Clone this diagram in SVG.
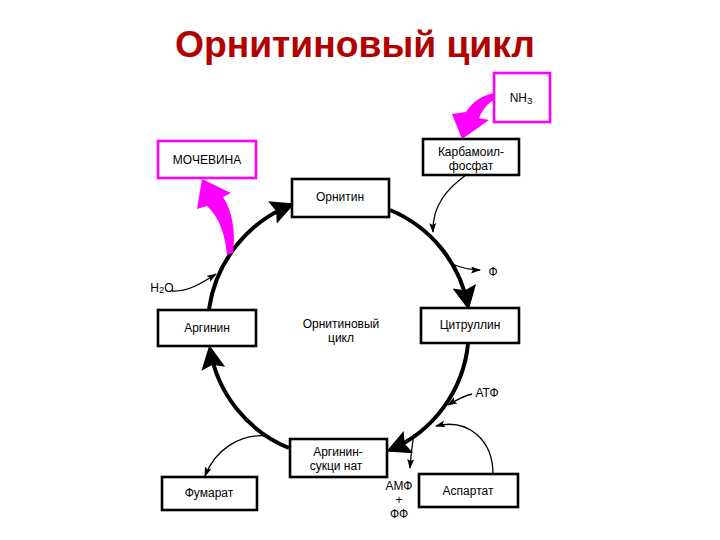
<svg xmlns="http://www.w3.org/2000/svg" width="720" height="540" viewBox="0 0 720 540">
<defs>
<style>
.box{fill:#fff;stroke:#000;stroke-width:2.6}
.mbox{fill:#fff;stroke:#f0f;stroke-width:2.6}
.t{font-family:"Liberation Sans",Arial,sans-serif;font-size:12px;fill:#000;text-anchor:middle}
.cyc{fill:none;stroke:#000;stroke-width:4;marker-end:url(#big)}
.thin{fill:none;stroke:#000;stroke-width:1.3;marker-end:url(#small)}
.mag{fill:#f0f;stroke:none}
</style>
<marker id="big" markerUnits="userSpaceOnUse" markerWidth="30" markerHeight="28" refX="20" refY="12" orient="auto">
<path d="M0,0 L24,12 L0,24 L4,12 Z" fill="#000"/>
</marker>
<marker id="small" markerUnits="userSpaceOnUse" markerWidth="12" markerHeight="10" refX="9" refY="3.5" orient="auto">
<path d="M0,0 L10,3.5 L0,7 L2,3.5 Z" fill="#000"/>
</marker>
</defs>
<rect width="720" height="540" fill="#fff"/>
<text x="355" y="57" font-family="Liberation Sans,Arial,sans-serif" font-weight="bold" font-size="37" fill="#b20000" text-anchor="middle" textLength="360" lengthAdjust="spacingAndGlyphs">Орнитиновый цикл</text>

<g id="connectors">
<path class="cyc" d="M390 210 A130 130 0 0 1 468 306"/>
<path class="cyc" d="M468 344 A130 130 0 0 1 390 450"/>
<path class="cyc" d="M289 448 A130 130 0 0 1 210 349"/>
<path class="cyc" d="M209 309 A132 132 0 0 1 291 205"/>
<path class="thin" d="M466 175 C448 188 432 205 433 232"/>
<path class="thin" d="M452 264 C462 268 470 270 480 270"/>
<path class="thin" d="M172 291 C188 292 202 283 216 274"/>
<path class="thin" d="M472 394 C464 396 458 399 448 405"/>
<path class="thin" d="M493 474 C493 440 468 418 436 426"/>
<path class="thin" d="M414 434 C412 445 411 455 410 468"/>
<path class="thin" d="M268 436 C240 433 215 450 205 476"/>
<path class="mag" d="M494 93 C480 96 472 103 466 112 L452 114 L462 139 L489 120 L479 118 C483 109 487 104 494 100 Z"/>
<path class="mag" d="M227 255 C225 232 218 216 207 206 L197 209 L202 179 L231 193 L223 197 C232 210 236 232 233 253 Z"/>
</g>

<g id="nh3"><rect class="mbox" x="494" y="73" width="56" height="49"/><text class="t" x="521" y="102">NH<tspan font-size="9.5" dy="2">3</tspan></text></g>
<g id="mochevina"><rect class="mbox" x="158" y="141" width="98" height="37"/><text class="t" x="207" y="164" font-size="12.5">МОЧЕВИНА</text></g>
<g id="karbamoil"><rect class="box" x="423" y="139" width="96" height="36" stroke-width="2"/><text class="t" x="471" y="155.5">Карбамоил-</text><text class="t" x="471" y="169.5">фосфат</text></g>
<g id="ornitin"><rect class="box" x="292" y="179" width="97" height="38" stroke-width="3"/><text class="t" x="340" y="201">Орнитин</text></g>
<g id="citrullin"><rect class="box" x="421" y="308" width="98" height="35" stroke-width="3"/><text class="t" x="470" y="329">Цитруллин</text></g>
<g id="arginin"><rect class="box" x="158" y="310" width="98" height="36" stroke-width="3"/><text class="t" x="207" y="332">Аргинин</text></g>
<g id="center"><text class="t" x="341" y="328">Орнитиновый</text><text class="t" x="341" y="342">цикл</text></g>
<g id="argsuc"><rect class="box" x="290" y="439" width="97" height="38" stroke-width="3"/><text class="t" x="338" y="455.5">Аргинин-</text><text class="t" x="336" y="470">сукци нат</text></g>
<g id="fumarat"><rect class="box" x="162" y="477" width="95" height="33"/><text class="t" x="209" y="497">Фумарат</text></g>
<g id="aspartat"><rect class="box" x="419" y="474" width="99" height="33"/><text class="t" x="468" y="495">Аспартат</text></g>
<g id="labels">
<text class="t" x="493" y="276">Ф</text>
<text class="t" x="162" y="292">H<tspan font-size="9.5" dy="1">2</tspan><tspan dy="-1">O</tspan></text>
<text class="t" x="487" y="397">АТФ</text>
<text class="t" x="399" y="490">АМФ</text>
<text class="t" x="399" y="504">+</text>
<text class="t" x="399" y="518">ФФ</text>
</g>
</svg>
